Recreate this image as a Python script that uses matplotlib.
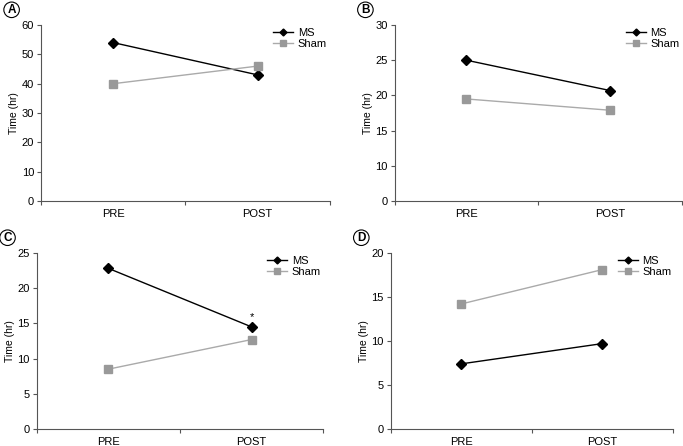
import matplotlib
matplotlib.use('Agg')
import matplotlib.pyplot as plt

plt.rcParams['font.family'] = ['Liberation Sans', 'DejaVu Sans']

## Data

groups = ['PRE', 'POST']
panels = ['A', 'B', 'C', 'D']
ms = [[54, 43], [25, 20.7], [22.8, 14.5], [7.4, 9.7]]
sham = [[40, 46], [19.5, 17.9], [8.5, 12.7], [14.2, 18.1]]
# y ticks per panel; panel B has a broken axis (0 drawn where 5 would be)
yticks = [[0, 10, 20, 30, 40, 50, 60], [5, 10, 15, 20, 25, 30],
          [0, 5, 10, 15, 20, 25], [0, 5, 10, 15, 20]]
ylabels = [['0', '10', '20', '30', '40', '50', '60'], ['0', '10', '15', '20', '25', '30'],
           ['0', '5', '10', '15', '20', '25'], ['0', '5', '10', '15', '20']]

## Layout (figure fractions)

rects = [
    [0.060, 0.549, 0.423, 0.395],
    [0.578, 0.549, 0.420, 0.395],
    [0.054, 0.038, 0.419, 0.395],
    [0.572, 0.038, 0.413, 0.395],
]

fig = plt.figure(figsize=(6.83, 4.46), dpi=100)

for i in range(4):
    ax = fig.add_axes(rects[i])
    xs = [0.5, 1.5]
    ax.plot(xs, ms[i], color='black', lw=1, marker='D', ms=5, label='MS')
    ax.plot(xs, sham[i], color='#aaaaaa', lw=1, marker='s', ms=5.5,
            mfc='#999999', mec='#999999', label='Sham')

    ax.set_xlim(0, 2)
    ax.set_ylim(yticks[i][0], yticks[i][-1])
    ax.set_yticks(yticks[i])
    ax.set_yticklabels(ylabels[i])
    ax.set_xticks([0, 1, 2])
    ax.set_xticklabels([])
    ax.set_xticks(xs, minor=True)
    ax.set_xticklabels(groups, minor=True)
    ax.tick_params(axis='x', which='minor', length=0, labelsize=8, pad=6)
    ax.tick_params(axis='x', which='major', length=3, width=0.8, color='#555555')
    ax.tick_params(axis='y', length=3, width=0.8, labelsize=8, pad=2, color='#555555')
    for s in ['top', 'right']:
        ax.spines[s].set_visible(False)
    for s in ['left', 'bottom']:
        ax.spines[s].set_color('#555555')
        ax.spines[s].set_linewidth(0.8)
    ax.set_ylabel('Time (hr)', fontsize=7.5, labelpad=2)

    leg = ax.legend(loc='upper left', bbox_to_anchor=(0.77, 1.04), frameon=False,
                    fontsize=8, handlelength=1.8, handletextpad=0.4,
                    labelspacing=0.1, markerscale=0.7)

    if panels[i] == 'C':
        ax.text(1.5, ms[i][1] + 0.7, '*', ha='center', va='bottom', fontsize=8)

    # circled panel letter
    fig.text(rects[i][0] - 0.043, rects[i][1] + rects[i][3] + 0.034, panels[i],
             fontsize=8.5, fontweight='bold', ha='center', va='center',
             bbox=dict(boxstyle='circle,pad=0.15', fc='white', ec='black', lw=0.8))

fig.savefig('out.png', dpi=100)
